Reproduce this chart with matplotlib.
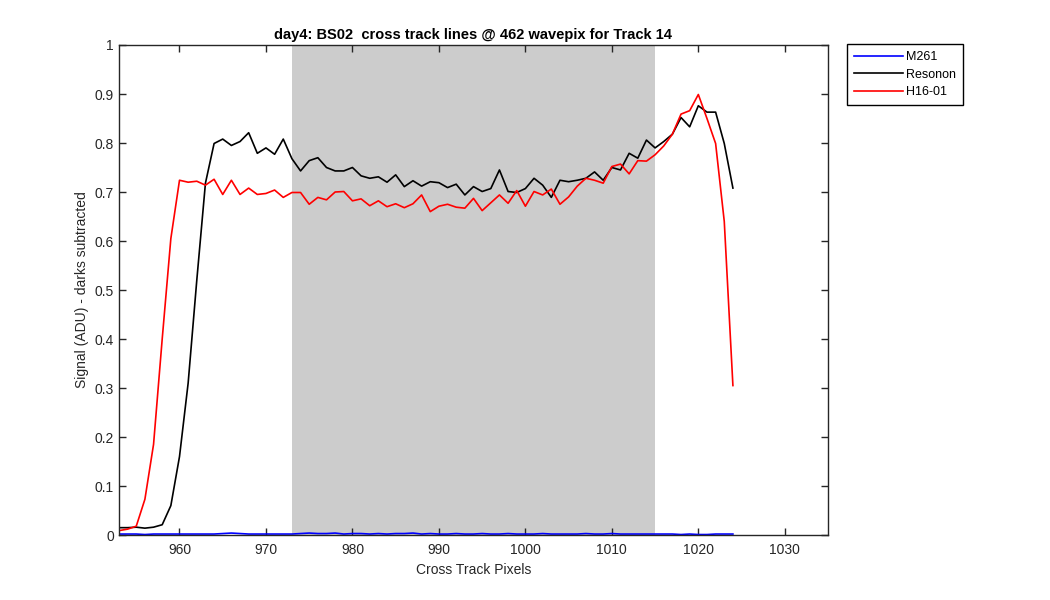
import matplotlib.pyplot as plt

plt.rcParams['font.family'] = ['Liberation Sans', 'DejaVu Sans']

pixels = list(range(953, 1025))

m261 = [0.002, 0.002, 0.002, 0.001, 0.002, 0.002, 0.002, 0.002, 0.002, 0.002,
        0.002, 0.002, 0.003, 0.004, 0.003, 0.002, 0.002, 0.002, 0.002, 0.002,
        0.002, 0.003, 0.004, 0.003, 0.003, 0.004, 0.002, 0.003, 0.003, 0.002,
        0.003, 0.002, 0.003, 0.003, 0.004, 0.002, 0.003, 0.002, 0.002, 0.003,
        0.002, 0.002, 0.003, 0.002, 0.002, 0.003, 0.002, 0.002, 0.002, 0.003,
        0.002, 0.002, 0.002, 0.002, 0.003, 0.002, 0.002, 0.003, 0.002, 0.002,
        0.002, 0.002, 0.002, 0.002, 0.002, 0.001, 0.002, 0.001, 0.001, 0.002,
        0.002, 0.002]

resonon = [0.015, 0.015, 0.016, 0.014, 0.016, 0.021, 0.060, 0.160, 0.310, 0.520,
           0.718, 0.799, 0.808, 0.795, 0.803, 0.821, 0.779, 0.790, 0.777, 0.808,
           0.768, 0.743, 0.764, 0.770, 0.750, 0.743, 0.743, 0.750, 0.733, 0.728,
           0.731, 0.720, 0.735, 0.711, 0.723, 0.712, 0.721, 0.719, 0.709, 0.716,
           0.694, 0.711, 0.701, 0.707, 0.745, 0.701, 0.699, 0.707, 0.728, 0.714,
           0.689, 0.724, 0.721, 0.724, 0.728, 0.741, 0.724, 0.750, 0.745, 0.779,
           0.769, 0.806, 0.790, 0.803, 0.818, 0.852, 0.833, 0.876, 0.863, 0.863,
           0.799, 0.708]

h16 = [0.009, 0.012, 0.018, 0.073, 0.185, 0.400, 0.605, 0.724, 0.720, 0.722,
       0.714, 0.726, 0.695, 0.724, 0.695, 0.708, 0.695, 0.697, 0.704, 0.689,
       0.699, 0.699, 0.675, 0.689, 0.684, 0.700, 0.701, 0.682, 0.686, 0.672,
       0.682, 0.670, 0.676, 0.668, 0.676, 0.694, 0.660, 0.671, 0.675, 0.669,
       0.667, 0.687, 0.662, 0.678, 0.694, 0.677, 0.703, 0.671, 0.701, 0.694,
       0.706, 0.675, 0.690, 0.712, 0.728, 0.724, 0.718, 0.752, 0.757, 0.737,
       0.764, 0.763, 0.776, 0.794, 0.818, 0.859, 0.866, 0.899, 0.850, 0.799,
       0.640, 0.305]

span_lo, span_hi = 973, 1015

fig = plt.figure(figsize=(10.5, 6), dpi=100)
ax = fig.add_axes([0.1133, 0.1083, 0.6753, 0.8167])

ax.axvspan(span_lo, span_hi, color='#cccccc', lw=0)
ax.plot(pixels, m261, color='#0000ff', lw=1.2, label='M261')
ax.plot(pixels, resonon, color='black', lw=1.2, label='Resonon')
ax.plot(pixels, h16, color='#ff0000', lw=1.2, label='H16-01')

ax.set_xlim(953, 1035)
ax.set_ylim(0, 1)
ax.set_xticks(range(960, 1031, 10))
ax.set_yticks([i / 10 for i in range(11)])
ax.set_yticklabels(['0', '0.1', '0.2', '0.3', '0.4', '0.5', '0.6', '0.7', '0.8', '0.9', '1'])
ax.tick_params(direction='in', top=True, right=True, labelsize=10, colors='#262626', length=5, width=1)
ax.tick_params(axis='x', pad=6)
for s in ax.spines.values():
    s.set_color('#262626')
    s.set_linewidth(1.0)

ax.set_title('day4: BS02  cross track lines @ 462 wavepix for Track 14', fontsize=10.5, fontweight='bold', pad=4)
ax.set_xlabel('Cross Track Pixels', fontsize=10, color='#262626')
ax.set_ylabel('Signal (ADU) - darks subtracted', fontsize=10, color='#262626')

leg = ax.legend(loc='upper left', bbox_to_anchor=(847 / 1050, 1 - 44 / 600), bbox_transform=fig.transFigure,
                fontsize=9, fancybox=False, framealpha=1, edgecolor='black', handlelength=3.9,
                handletextpad=0.25, borderpad=0.55, labelspacing=0.45, borderaxespad=0)
leg.get_frame().set_linewidth(1.0)

plt.savefig('out.png', dpi=100)
